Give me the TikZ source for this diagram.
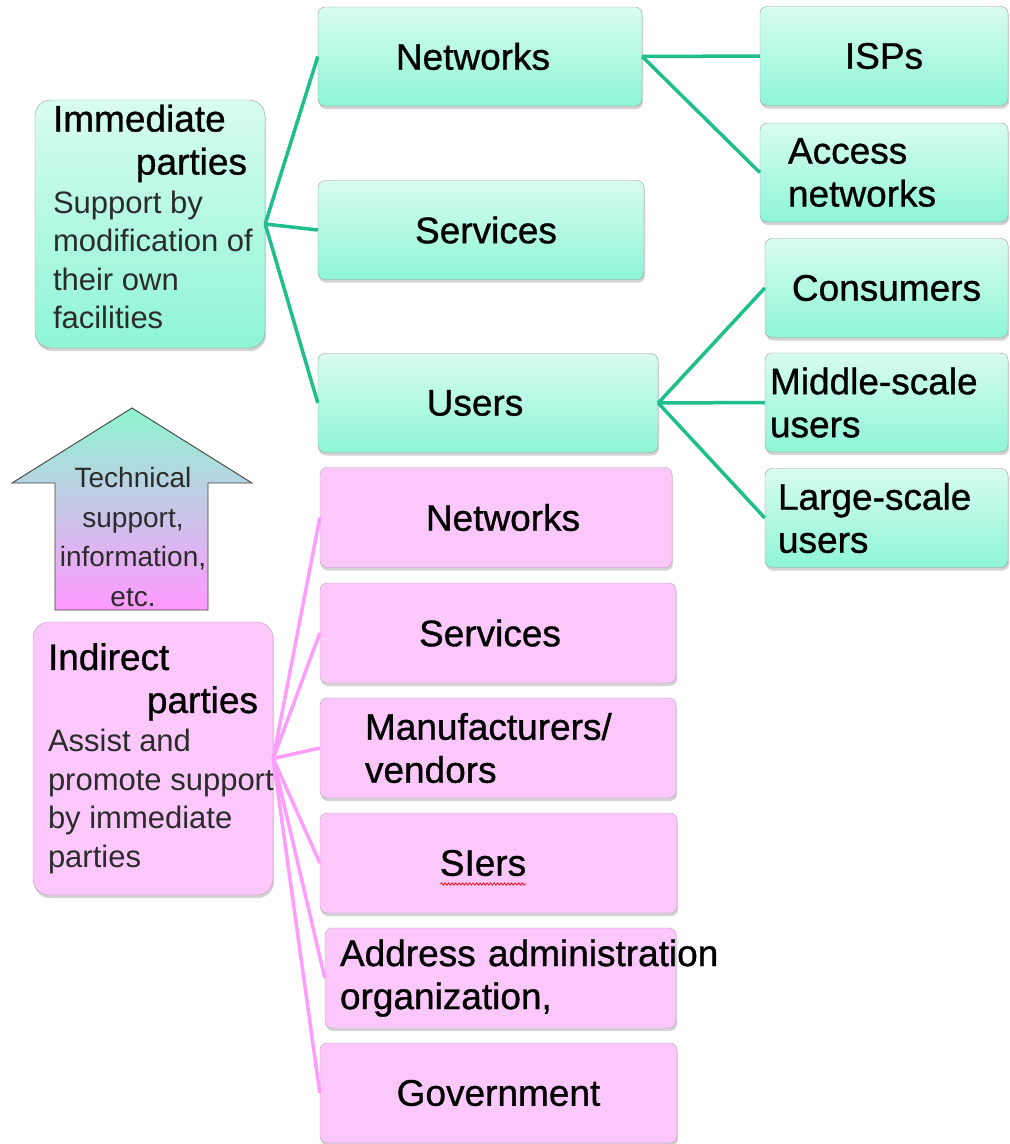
\documentclass[tikz,border=0pt]{standalone}
\usepackage{fontspec}
\setmainfont{Liberation Sans}
\newfontfamily\boxfont[FakeBold=0.9]{Liberation Sans}
\newfontfamily\bodyfont{Liberation Sans}
\usetikzlibrary{shadows,decorations.pathmorphing}
\definecolor{mintTop}{HTML}{D8FCF0}
\definecolor{mintBot}{HTML}{8EF5D6}
\definecolor{pinkFill}{HTML}{FCC8FC}
\definecolor{pinkEdge}{HTML}{B89AB8}
\definecolor{greenLine}{HTML}{1FBF8C}
\definecolor{pinkLine}{HTML}{FF9CFF}
\definecolor{arrowTop}{HTML}{8EF5D0}
\definecolor{arrowBot}{HTML}{FF99FF}
\definecolor{bodyGray}{HTML}{2B2B2B}
\newcommand\bodytext{\bodyfont\fontsize{31}{38.6}\selectfont\spaceskip=0pt\xspaceskip=0pt\color{bodyGray}}

\begin{document}
\begin{tikzpicture}
[x=1pt,y=-1pt,
 gbox/.style={rectangle,rounded corners=7pt,draw=black!40,top color=mintTop,bottom color=mintBot,
              drop shadow={shadow xshift=1pt,shadow yshift=-3pt,fill=black!50,opacity=.35},
              inner ysep=0pt,minimum height=99pt,align=center,
              font=\boxfont\fontsize{37}{43}\selectfont},
 pbox/.style={rectangle,rounded corners=7pt,draw=pinkEdge,fill=pinkFill,
              drop shadow={shadow xshift=1pt,shadow yshift=-3pt,fill=black!50,opacity=.35},
              inner ysep=0pt,minimum height=100pt,align=center,
              font=\boxfont\fontsize{37}{43}\selectfont},
 party/.style={rounded corners=16pt,align=left},
 gline/.style={greenLine,line width=3.5pt},
 pline/.style={pinkLine,line width=3.5pt},
 squiggle/.style={red,line width=0.7pt,decorate,decoration={snake,amplitude=1.2pt,segment length=3.5pt}}]
\useasboundingbox (0,0) rectangle (1010,1144);
% immediate parties
\node[gbox,party,text width=194pt,inner xsep=18pt,minimum height=248pt] (immed) at (150,224)
  {Immediate\\ \hspace*{\fill}parties\\
   {\bodytext Support by\\ \mbox{modification of}\\ their own\\ facilities\par}\kern14pt\hrule height0pt width0pt};
\node[gbox,text width=304pt,inner xsep=10pt] (net1) at (480,56.5) {\hspace*{-14pt}Networks};
\node[gbox,text width=306pt,inner xsep=10pt] (srv1) at (481,230)  {\hspace*{10pt}Services};
\node[gbox,text width=320pt,inner xsep=10pt] (users) at (488,403) {\hspace*{-26pt}Users};
\node[gbox,text width=228pt,inner xsep=10pt] (isp) at (884,56)   {ISPs};
\node[gbox,align=left,text width=192pt,inner xsep=28pt] (access) at (884,172.5) {Access\\ networks};
\node[gbox,text width=223pt,inner xsep=10pt] (cons) at (886.5,288) {Consumers};
\node[gbox,align=left,text width=233pt,inner xsep=5pt]  (middle) at (886.5,402.5) {Middle-scale\\ users};
\node[gbox,align=left,text width=217pt,inner xsep=13pt] (large) at (886.5,518) {Large-scale\\ users};
\draw[gline] (immed.east) -- (net1.west);
\draw[gline] (immed.east) -- (srv1.west);
\draw[gline] (immed.east) -- (users.west);
\draw[gline] (net1.east) -- (isp.west);
\draw[gline] (net1.east) -- (access.west);
\draw[gline] (users.east) -- (cons.west);
\draw[gline] (users.east) -- (middle.west);
\draw[gline] (users.east) -- (large.west);
%
% support arrow
\shade[top color=arrowTop,bottom color=arrowBot,draw=black!75,line width=0.9pt]
  (132,408) -- (252,483) -- (208,483) -- (208,610) -- (55,610) -- (55,483) -- (12,483) -- cycle;
\node[align=center,text=bodyGray,font=\bodyfont\fontsize{28}{39.5}\selectfont] (support) at (133,537)
  {Technical\\ support,\\ information,\\ etc.};
%
% indirect parties
\node[pbox,party,text width=210pt,inner xsep=15pt,minimum height=273pt] (indir) at (153,758.5)
  {Indirect\\ \hspace*{\fill}parties\\
   {\bodytext Assist and\\ \mbox{promote support}\\ by immediate\\ parties\par}};
\node[pbox,text width=332pt,inner xsep=10pt] (net2) at (496,517.5) {\hspace*{14pt}Networks};
\node[pbox,text width=336pt,inner xsep=10pt] (srv2) at (498,633)   {\hspace*{-16pt}Services};
\node[pbox,align=left,text width=266pt,inner xsep=45pt] (manuf) at (498,748) {Manufacturers/\\ vendors};
\node[pbox,text width=337pt,inner xsep=10pt] (siers) at (498.5,863) {\hspace*{-31pt}SIers};
\node[pbox,align=left,text width=321pt,inner xsep=15pt] (addr) at (500.5,978) {\mbox{Address administration}\\ organization,};
\node[pbox,text width=337pt,inner xsep=10pt] (gov) at (498.5,1093) {Government};
\draw[squiggle] ([xshift=-58pt,yshift=-21pt]siers.center) -- ([xshift=28pt,yshift=-21pt]siers.center);
\foreach \target in {net2,srv2,manuf,siers,addr,gov}
  \draw[pline] (indir.east) -- (\target.west);
\end{tikzpicture}
\end{document}
